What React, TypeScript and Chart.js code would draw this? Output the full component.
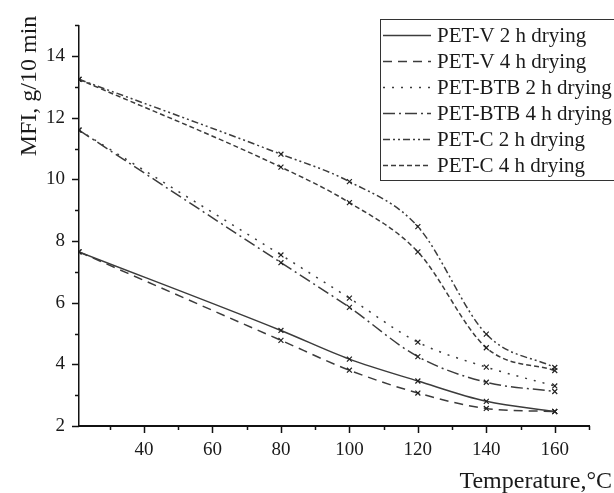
import React, { useEffect, useRef } from 'react';
import { Chart, registerables } from 'chart.js';

Chart.register(...registerables);

const temperatures = [21, 80, 100, 120, 140, 160];
const petV2h = [7.65, 5.1, 4.17, 3.46, 2.8, 2.47];
const petV4h = [7.65, 4.78, 3.81, 3.07, 2.57, 2.47];
const petBTB2h = [11.6, 7.55, 6.15, 4.72, 3.91, 3.3];
const petBTB4h = [11.6, 7.3, 5.85, 4.25, 3.42, 3.12];
const petC2h = [13.25, 10.82, 9.93, 8.47, 4.98, 3.9];
const petC4h = [13.25, 10.4, 9.25, 7.65, 4.54, 3.8];

const seriesLabels = [
  'PET-V 2 h drying',
  'PET-V 4 h drying',
  'PET-BTB 2 h drying',
  'PET-BTB 4 h drying',
  'PET-C 2 h drying',
  'PET-C 4 h drying',
];
const seriesValues = [petV2h, petV4h, petBTB2h, petBTB4h, petC2h, petC4h];
const seriesDashes: number[][] = [[], [9, 6], [2, 7], [12, 4, 2, 4], [7, 3, 2, 3, 2, 3], [5, 3]];

const xTickValues = [30, 40, 50, 60, 70, 80, 90, 100, 110, 120, 130, 140, 150, 160, 170];
const xLabelled = [40, 60, 80, 100, 120, 140, 160];
const yTickValues = [2, 3, 4, 5, 6, 7, 8, 9, 10, 11, 12, 13, 14, 15];
const yLabelled = [2, 4, 6, 8, 10, 12, 14];

const xTitle = 'Temperature,°C';
const yTitle = 'MFI, g/10 min';

const SERIF = '"Liberation Serif", "Times New Roman", serif';
const LINE_COLOR = '#3c3c3c';
const TEXT_COLOR = '#1a1a1a';

const decorPlugin = {
  id: 'decor',
  afterDraw(chart: any) {
    const { ctx, chartArea: a, scales } = chart;
    const x = scales.x;
    const y = scales.y;
    ctx.save();
    // tick marks
    ctx.strokeStyle = '#111';
    ctx.lineWidth = 1.5;
    ctx.setLineDash([]);
    xTickValues.forEach((v) => {
      const px = Math.round(x.getPixelForValue(v)) + 0.5;
      const len = xLabelled.includes(v) ? 7 : 4;
      ctx.beginPath();
      ctx.moveTo(px, a.bottom);
      ctx.lineTo(px, a.bottom + len);
      ctx.stroke();
    });
    yTickValues.forEach((v) => {
      const py = Math.round(y.getPixelForValue(v)) + 0.5;
      const len = yLabelled.includes(v) ? 7 : 4;
      ctx.beginPath();
      ctx.moveTo(a.left - len, py);
      ctx.lineTo(a.left, py);
      ctx.stroke();
    });

    // axis titles
    ctx.fillStyle = TEXT_COLOR;
    ctx.font = `24px ${SERIF}`;
    ctx.textAlign = 'right';
    ctx.textBaseline = 'alphabetic';
    ctx.fillText(xTitle, 612, 488);

    ctx.save();
    ctx.translate(36, 86);
    ctx.rotate(-Math.PI / 2);
    ctx.textAlign = 'center';
    ctx.fillText(yTitle, 0, 0);
    ctx.restore();

    // legend
    const boxL = 380.5;
    const boxT = 19.5;
    const boxB = 180.5;
    ctx.fillStyle = '#ffffff';
    ctx.fillRect(boxL, boxT, 640 - boxL, boxB - boxT);
    ctx.strokeStyle = '#333';
    ctx.lineWidth = 1;
    ctx.strokeRect(boxL, boxT, 640 - boxL, boxB - boxT);
    ctx.font = `21px ${SERIF}`;
    ctx.textAlign = 'left';
    ctx.textBaseline = 'middle';
    seriesLabels.forEach((label, i) => {
      const cy = 35 + 26 * i;
      ctx.strokeStyle = LINE_COLOR;
      ctx.lineWidth = 1.5;
      ctx.setLineDash(seriesDashes[i]);
      ctx.beginPath();
      ctx.moveTo(383, cy + 0.5);
      ctx.lineTo(431, cy + 0.5);
      ctx.stroke();
      ctx.setLineDash([]);
      ctx.fillStyle = TEXT_COLOR;
      ctx.fillText(label, 437, cy + 1);
    });
    ctx.restore();
  },
};

export default function App() {
  const canvasRef = useRef<HTMLCanvasElement | null>(null);

  useEffect(() => {
    if (!canvasRef.current) return;
    const datasets = seriesLabels.map((label, i) => ({
      label,
      data: temperatures.map((t, j) => ({ x: t, y: seriesValues[i][j] })),
      borderColor: LINE_COLOR,
      backgroundColor: LINE_COLOR,
      borderWidth: 1.5,
      borderDash: seriesDashes[i],
      cubicInterpolationMode: 'monotone' as const,
      pointStyle: 'crossRot' as const,
      pointRadius: 3.5,
      pointBorderWidth: 1.2,
      pointBorderColor: '#222',
      fill: false,
    }));

    const chart = new Chart(canvasRef.current, {
      type: 'line',
      data: { datasets },
      options: {
        animation: false,
        responsive: false,
        maintainAspectRatio: false,
        layout: { padding: { left: 0, top: 13, right: 25, bottom: 0 } },
        plugins: {
          legend: { display: false },
          tooltip: { enabled: false },
          title: { display: false },
        },
        scales: {
          x: {
            type: 'linear',
            min: 21,
            max: 170,
            afterFit: (s: any) => {
              s.height = 67;
            },
            afterBuildTicks: (s: any) => {
              s.ticks = xTickValues.map((v) => ({ value: v }));
            },
            grid: { display: false, drawTicks: false },
            border: { display: true, color: '#111', width: 2 },
            ticks: {
              autoSkip: false,
              maxRotation: 0,
              padding: 13,
              color: TEXT_COLOR,
              font: { family: SERIF, size: 19 },
              callback: (v: any) => (xLabelled.includes(Number(v)) ? String(v) : ''),
            },
          },
          y: {
            type: 'linear',
            min: 2,
            max: 15,
            afterFit: (s: any) => {
              s.width = 79;
            },
            afterBuildTicks: (s: any) => {
              s.ticks = yTickValues.map((v) => ({ value: v }));
            },
            grid: { display: false, drawTicks: false },
            border: { display: true, color: '#111', width: 1.5 },
            ticks: {
              autoSkip: false,
              padding: 14,
              color: TEXT_COLOR,
              font: { family: SERIF, size: 19 },
              callback: (v: any) => (yLabelled.includes(Number(v)) ? String(v) : ''),
            },
          },
        },
      },
      plugins: [decorPlugin],
    });
    return () => chart.destroy();
  }, []);

  return (
    <div style={{ position: 'fixed', left: 0, top: 0, width: 614, height: 493, background: '#fff' }}>
      <canvas ref={canvasRef} width={614} height={493} style={{ display: 'block', width: 614, height: 493 }} />
    </div>
  );
}
